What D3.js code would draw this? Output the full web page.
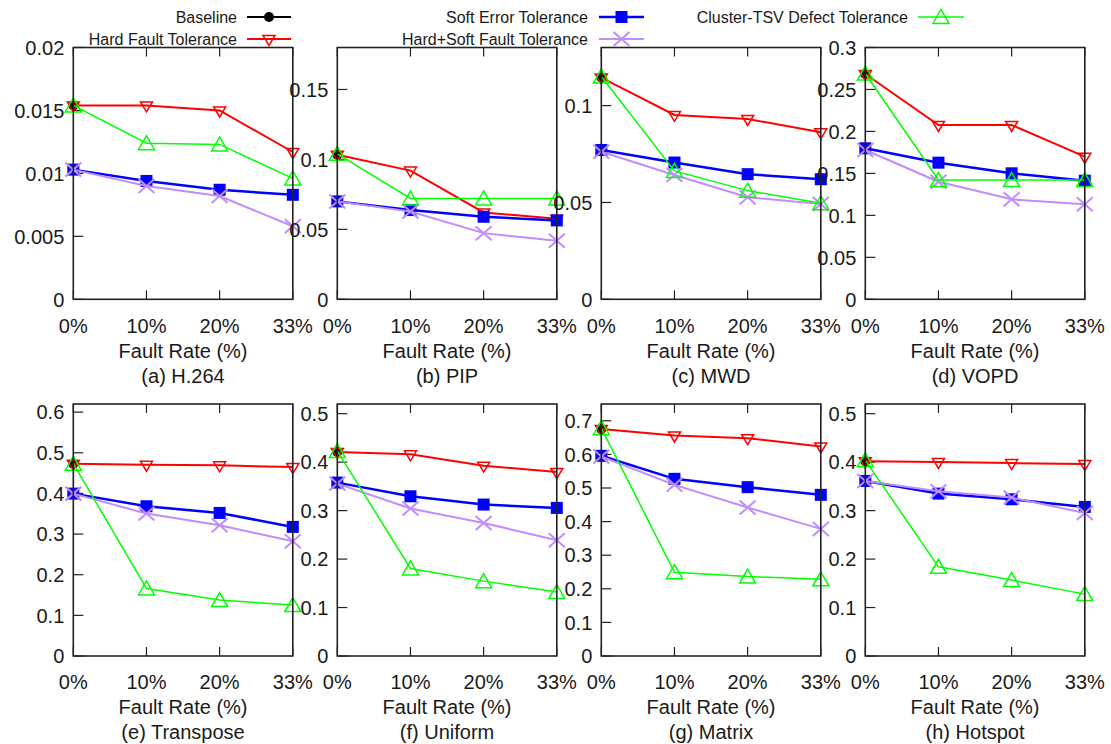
<!DOCTYPE html>
<html>
  <head>
    <meta http-equiv="Content-Type" content="text/html;charset=utf-8"/>
    <script type="text/javascript" src="https://cdn.jsdelivr.net/npm/d3@7"></script>
    <style type="text/css">
      body { margin: 0; background: #fff; }
      text {
        font-family: "Liberation Sans", Arial, Helvetica, sans-serif;
        fill: #1a1a1a;
      }
    </style>
  </head>
  <body>
    <svg id="con"></svg>
    <script type="text/javascript">

    // ---- data ----
    var categories = ["0%", "10%", "20%", "33%"];
    var titles = ["(a) H.264", "(b) PIP", "(c) MWD", "(d) VOPD",
                  "(e) Transpose", "(f) Uniform", "(g) Matrix", "(h) Hotspot"];
    var yMax = [0.02, 0.18, 0.13, 0.3, 0.62, 0.52, 0.75, 0.52];
    var yTicks = [
      [0, 0.005, 0.01, 0.015, 0.02],
      [0, 0.05, 0.1, 0.15],
      [0, 0.05, 0.1],
      [0, 0.05, 0.1, 0.15, 0.2, 0.25, 0.3],
      [0, 0.1, 0.2, 0.3, 0.4, 0.5, 0.6],
      [0, 0.1, 0.2, 0.3, 0.4, 0.5],
      [0, 0.1, 0.2, 0.3, 0.4, 0.5, 0.6, 0.7],
      [0, 0.1, 0.2, 0.3, 0.4, 0.5]
    ];
    var baseline = [0.0154, 0.1034, 0.1145, 0.2684, 0.4732, 0.4209, 0.6753, 0.4017];
    var hardFault = [
      [0.0154, 0.0154, 0.0150, 0.0117],
      [0.1034, 0.0920, 0.0621, 0.0576],
      [0.1145, 0.0952, 0.0931, 0.0862],
      [0.2684, 0.2077, 0.2077, 0.1699],
      [0.4732, 0.4707, 0.4690, 0.4649],
      [0.4209, 0.4161, 0.3928, 0.3797],
      [0.6753, 0.6563, 0.6484, 0.6236],
      [0.4017, 0.4003, 0.3980, 0.3960]
    ];
    var softError = [
      [0.0103, 0.0094, 0.0087, 0.0083],
      [0.0700, 0.0638, 0.0590, 0.0564],
      [0.0771, 0.0706, 0.0646, 0.0620],
      [0.1799, 0.1628, 0.1501, 0.1413],
      [0.3995, 0.3684, 0.3520, 0.3176],
      [0.3578, 0.3296, 0.3125, 0.3056],
      [0.5958, 0.5273, 0.5025, 0.4796],
      [0.3612, 0.3351, 0.3234, 0.3076]
    ];
    var hardSoft = [
      [0.0103, 0.0090, 0.0082, 0.0058],
      [0.0700, 0.0628, 0.0473, 0.0418],
      [0.0762, 0.0642, 0.0527, 0.0492],
      [0.1779, 0.1401, 0.1191, 0.1132],
      [0.3995, 0.3504, 0.3217, 0.2824],
      [0.3557, 0.3043, 0.2746, 0.2390],
      [0.5937, 0.5094, 0.4418, 0.3783],
      [0.3612, 0.3399, 0.3269, 0.2952]
    ];
    var clusterTsv = [
      [0.0154, 0.0124, 0.0123, 0.0096],
      [0.1040, 0.0721, 0.0721, 0.0721],
      [0.1150, 0.0663, 0.0561, 0.0496],
      [0.2690, 0.1421, 0.1421, 0.1421],
      [0.4732, 0.1662, 0.1375, 0.1252],
      [0.4229, 0.1806, 0.1545, 0.1319],
      [0.6780, 0.2493, 0.2363, 0.2284],
      [0.4037, 0.1840, 0.1566, 0.1277]
    ];

    // ---- styles ----
    var series = [
      {name: "Baseline", data: null, color: "#000000", width: 2, marker: "circle"},
      {name: "Hard Fault Tolerance", data: hardFault, color: "#ff0000", width: 2, marker: "tridown"},
      {name: "Soft Error Tolerance", data: softError, color: "#0000ff", width: 2.5, marker: "square"},
      {name: "Hard+Soft Fault Tolerance", data: hardSoft, color: "#c08cff", width: 2, marker: "cross"},
      {name: "Cluster-TSV Defect Tolerance", data: clusterTsv, color: "#00ff00", width: 1.5, marker: "triup"}
    ];

    var W = 1111, H = 744;
    var svg = d3.select("#con").attr("width", W).attr("height", H);

    var colLeft = [73.3, 337.3, 601.3, 865.3];
    var pw = 219.5;
    var rowTop = [47.5, 404];
    var rowBottom = [299.3, 656];
    var fmt = d3.format("");

    function drawMarker(g, type, color, x, y) {
      if (type == "circle") {
        g.append("circle").attr("cx", x).attr("cy", y).attr("r", 5).attr("fill", color);
      } else if (type == "square") {
        g.append("rect").attr("x", x - 6).attr("y", y - 6).attr("width", 12).attr("height", 12)
          .attr("fill", color);
      } else if (type == "tridown") {
        g.append("path").attr("d", "M" + (x - 6) + "," + (y - 3.5) + "L" + (x + 6) + "," + (y - 3.5)
            + "L" + x + "," + (y + 6.5) + "Z")
          .attr("fill", "none").attr("stroke", color).attr("stroke-width", 1.5);
      } else if (type == "triup") {
        g.append("path").attr("d", "M" + x + "," + (y - 7.5) + "L" + (x + 8) + "," + (y + 6.5)
            + "L" + (x - 8) + "," + (y + 6.5) + "Z")
          .attr("fill", "none").attr("stroke", color).attr("stroke-width", 1.5);
      } else if (type == "cross") {
        g.append("path").attr("d", "M" + (x - 8) + "," + (y - 7) + "L" + (x + 8) + "," + (y + 7)
            + "M" + (x - 8) + "," + (y + 7) + "L" + (x + 8) + "," + (y - 7))
          .attr("fill", "none").attr("stroke", color).attr("stroke-width", 2);
      }
    }

    titles.forEach(function(title, p) {
      var row = Math.floor(p / 4), col = p % 4;
      var left = colLeft[col], right = left + pw;
      var top = rowTop[row], bottom = rowBottom[row];

      var x = d3.scalePoint().domain(categories).range([left, right]).padding(0);
      var y = d3.scaleLinear().domain([0, yMax[p]]).range([bottom, top]);

      var g = svg.append("g");

      // ticks
      yTicks[p].forEach(function(t) {
        g.append("line").attr("x1", left).attr("x2", left + 10)
          .attr("y1", y(t)).attr("y2", y(t)).attr("stroke", "#222").attr("stroke-width", 1.2);
        g.append("text").attr("x", left - 9).attr("y", y(t)).attr("dy", "0.36em")
          .attr("text-anchor", "end").style("font-size", "20px").text(fmt(t));
      });
      categories.forEach(function(c) {
        g.append("line").attr("x1", x(c)).attr("x2", x(c))
          .attr("y1", top).attr("y2", top + 9).attr("stroke", "#222").attr("stroke-width", 1.2);
        g.append("line").attr("x1", x(c)).attr("x2", x(c))
          .attr("y1", bottom).attr("y2", bottom - 9).attr("stroke", "#222").attr("stroke-width", 1.2);
        g.append("text").attr("x", x(c)).attr("y", bottom + 26).attr("dy", "0.36em")
          .attr("text-anchor", "middle").style("font-size", "20px").text(c);
      });

      g.append("text").attr("x", (left + right) / 2).attr("y", bottom + 51).attr("dy", "0.36em")
        .attr("text-anchor", "middle").style("font-size", "20px").text("Fault Rate (%)");
      g.append("text").attr("x", (left + right) / 2).attr("y", bottom + 76).attr("dy", "0.36em")
        .attr("text-anchor", "middle").style("font-size", "20px").text(title);

      // series
      var line = d3.line().x(function(d, i) { return x(categories[i]); }).y(function(d) { return y(d); });
      series.forEach(function(s) {
        if (s.data == null) {
          drawMarker(g, s.marker, s.color, x(categories[0]), y(baseline[p]));
          return;
        }
        var vals = s.data[p];
        g.append("path").attr("d", line(vals)).attr("fill", "none")
          .attr("stroke", s.color).attr("stroke-width", s.width);
        vals.forEach(function(v, i) {
          drawMarker(g, s.marker, s.color, x(categories[i]), y(v));
        });
      });

      // border
      g.append("rect").attr("x", left).attr("y", top).attr("width", pw).attr("height", bottom - top)
        .attr("fill", "none").attr("stroke", "#222").attr("stroke-width", 1.6);
    });

    // legend
    var legendPos = [
      {textEnd: 237, x0: 247, x1: 291, y: 17},
      {textEnd: 237, x0: 247, x1: 291, y: 39},
      {textEnd: 588, x0: 599, x1: 644, y: 17},
      {textEnd: 588, x0: 599, x1: 644, y: 39},
      {textEnd: 908, x0: 918, x1: 964, y: 17}
    ];
    var lg = svg.append("g");
    series.forEach(function(s, i) {
      var L = legendPos[i];
      lg.append("text").attr("x", L.textEnd).attr("y", L.y).attr("dy", "0.36em")
        .attr("text-anchor", "end").style("font-size", "16px").text(s.name);
      lg.append("line").attr("x1", L.x0).attr("x2", L.x1).attr("y1", L.y).attr("y2", L.y)
        .attr("stroke", s.color).attr("stroke-width", s.width);
      drawMarker(lg, s.marker, s.color, (L.x0 + L.x1) / 2, L.y);
    });

    </script>
  </body>
</html>
